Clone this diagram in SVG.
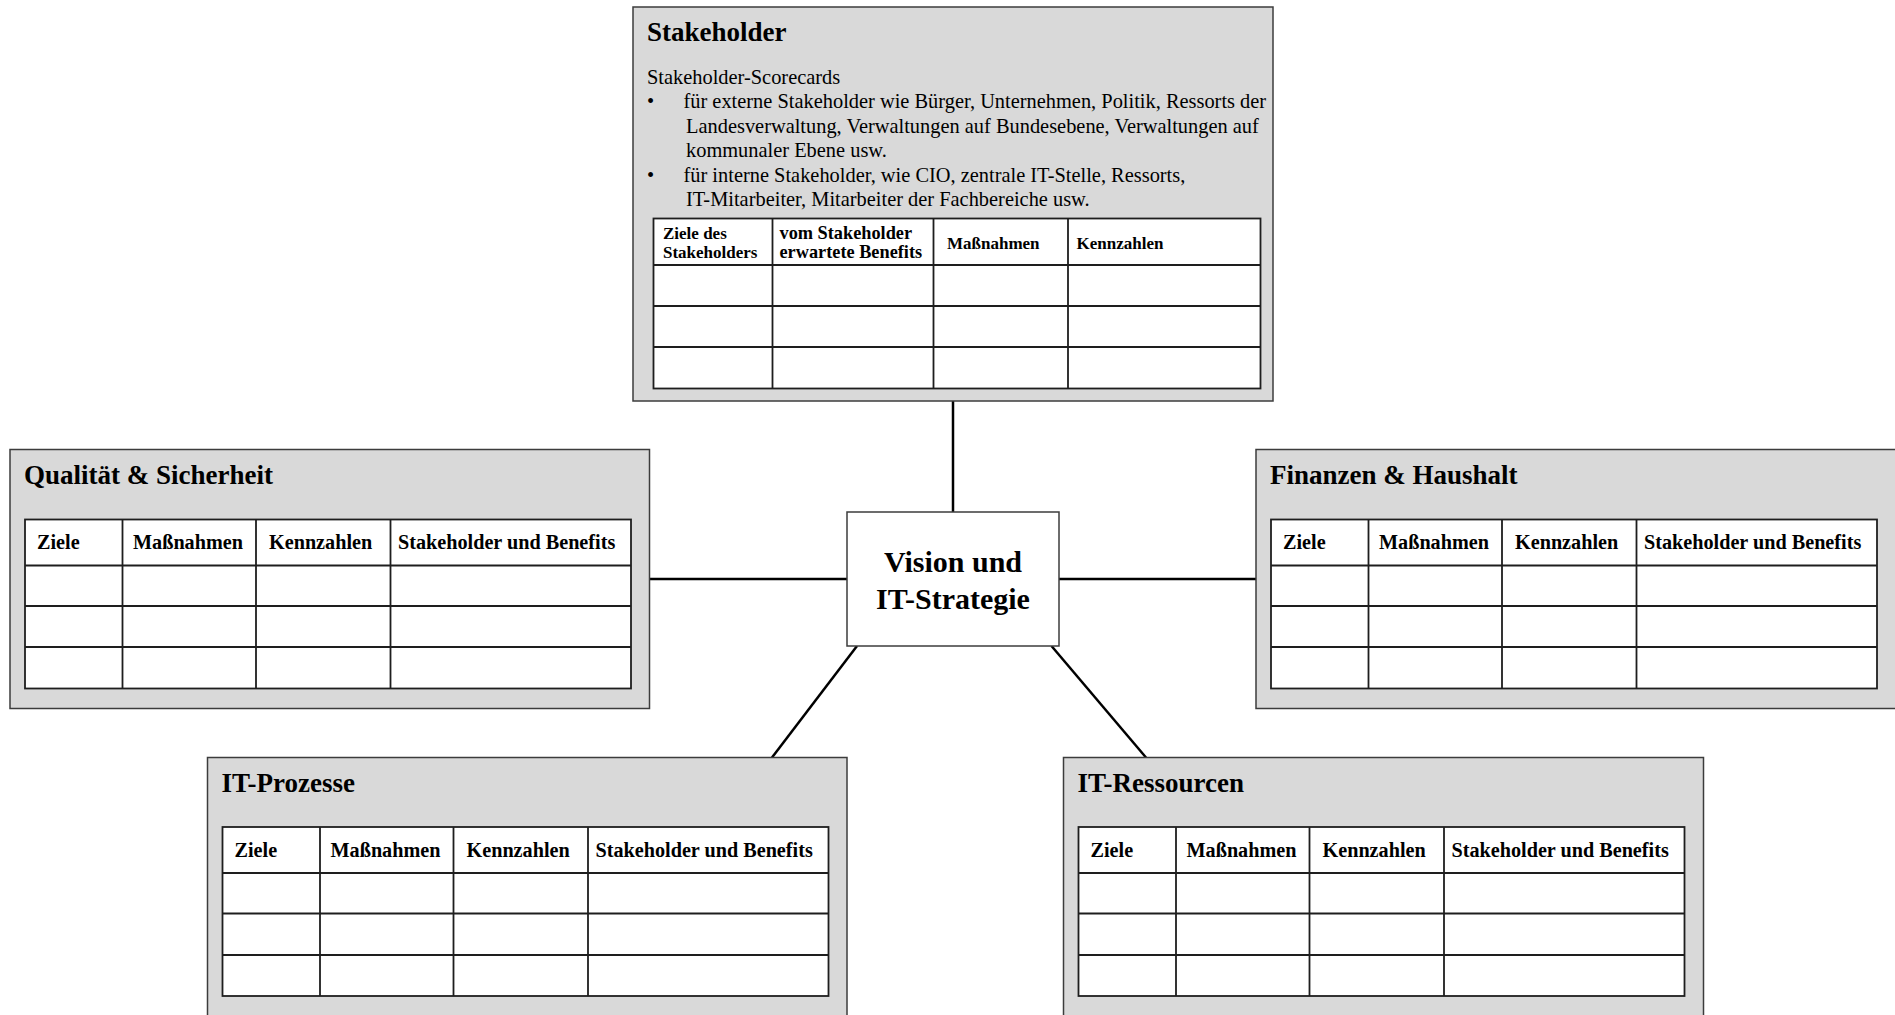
<svg xmlns="http://www.w3.org/2000/svg" width="1895" height="1015" viewBox="0 0 1895 1015">
  <style>
    .box { fill: #d9d9d9; stroke: #3c3c3c; stroke-width: 1.5; }
    .core { fill: #ffffff; stroke: #3c3c3c; stroke-width: 1.5; }
    .tbl { fill: #ffffff; stroke: #1e1e1e; stroke-width: 1.8; }
    .grid { stroke: #1e1e1e; stroke-width: 1.8; fill: none; }
    .title { font-family: "Liberation Serif", "Times New Roman", serif; font-weight: bold; font-size: 27px; fill: #000; }
    .head { font-family: "Liberation Serif", "Times New Roman", serif; font-weight: bold; font-size: 20.2px; fill: #000; }
    .shead { font-family: "Liberation Serif", "Times New Roman", serif; font-weight: bold; font-size: 17px; fill: #000; }
    .shead2 { font-family: "Liberation Serif", "Times New Roman", serif; font-weight: bold; font-size: 18.3px; fill: #000; }
    .body { font-family: "Liberation Serif", "Times New Roman", serif; font-size: 20.4px; fill: #000; }
    .center { font-family: "Liberation Serif", "Times New Roman", serif; font-weight: bold; font-size: 30px; fill: #000; text-anchor: middle; }
    .link { stroke: #000; stroke-width: 2.5; fill: none; }
  </style>

  <!-- connectors between the strategy core and the five perspectives -->
  <g id="connectors">
    <line class="link" x1="953" y1="401" x2="953" y2="512"/>
    <line class="link" x1="649.5" y1="579" x2="847" y2="579"/>
    <line class="link" x1="1059" y1="579" x2="1256" y2="579"/>
    <line class="link" x1="857" y1="646" x2="772" y2="757.5"/>
    <line class="link" x1="1051.5" y1="646" x2="1146" y2="757.5"/>
  </g>

  <!-- stakeholder perspective -->
  <g id="stakeholder">
    <rect class="box" x="633" y="7" width="640" height="394"/>
    <text class="title" x="647" y="41">Stakeholder</text>
    <text class="body" x="647" y="83.5">Stakeholder-Scorecards</text>
    <text class="body" x="647" y="108">•</text>
    <text class="body" x="683.5" y="108">für externe Stakeholder wie Bürger, Unternehmen, Politik, Ressorts der</text>
    <text class="body" x="686" y="132.5">Landesverwaltung, Verwaltungen auf Bundesebene, Verwaltungen auf</text>
    <text class="body" x="686" y="157">kommunaler Ebene usw.</text>
    <text class="body" x="647" y="181.5">•</text>
    <text class="body" x="683.5" y="181.5">für interne Stakeholder, wie CIO, zentrale IT-Stelle, Ressorts,</text>
    <text class="body" x="686" y="206">IT-Mitarbeiter, Mitarbeiter der Fachbereiche usw.</text>
    <rect class="tbl" x="653.5" y="218.5" width="607" height="170"/>
    <path class="grid" d="M653.5 265H1260.5M653.5 306H1260.5M653.5 347H1260.5M772.5 218.5V388.5M933.5 218.5V388.5M1068 218.5V388.5"/>
    <text class="shead" x="663" y="239">Ziele des</text>
    <text class="shead" x="663" y="258">Stakeholders</text>
    <text class="shead2" x="779.5" y="239">vom Stakeholder</text>
    <text class="shead2" x="779.5" y="258">erwartete Benefits</text>
    <text class="shead" x="947" y="249">Maßnahmen</text>
    <text class="shead" x="1076.5" y="249">Kennzahlen</text>
  </g>

  <!-- quality and security perspective -->
  <g id="qualitaet" transform="translate(10 449.5)">
    <rect class="box" x="0" y="0" width="639.5" height="259"/>
    <text class="title" x="14" y="34">Qualität &amp; Sicherheit</text>
    <rect class="tbl" x="15" y="70" width="606" height="169"/>
    <path class="grid" d="M15 116H621M15 156.5H621M15 197.5H621M112.5 70V239M246 70V239M380.5 70V239"/>
    <text class="head" x="27" y="99.5">Ziele</text>
    <text class="head" x="123" y="99.5">Maßnahmen</text>
    <text class="head" x="259" y="99.5">Kennzahlen</text>
    <text class="head" x="388" y="99.5">Stakeholder und Benefits</text>
  </g>

  <!-- finance and budget perspective -->
  <g id="finanzen" transform="translate(1256 449.5)">
    <rect class="box" x="0" y="0" width="660" height="259"/>
    <text class="title" x="14" y="34">Finanzen &amp; Haushalt</text>
    <rect class="tbl" x="15" y="70" width="606" height="169"/>
    <path class="grid" d="M15 116H621M15 156.5H621M15 197.5H621M112.5 70V239M246 70V239M380.5 70V239"/>
    <text class="head" x="27" y="99.5">Ziele</text>
    <text class="head" x="123" y="99.5">Maßnahmen</text>
    <text class="head" x="259" y="99.5">Kennzahlen</text>
    <text class="head" x="388" y="99.5">Stakeholder und Benefits</text>
  </g>

  <!-- core: vision and IT strategy -->
  <g id="vision">
    <rect class="core" x="847" y="512" width="212" height="134"/>
    <text class="center" x="953" y="572">Vision und</text>
    <text class="center" x="953" y="609">IT-Strategie</text>
  </g>

  <!-- IT process perspective -->
  <g id="it-prozesse" transform="translate(207.5 757.5)">
    <rect class="box" x="0" y="0" width="639.5" height="280"/>
    <text class="title" x="14" y="34">IT-Prozesse</text>
    <rect class="tbl" x="15" y="69.5" width="606" height="169"/>
    <path class="grid" d="M15 115.5H621M15 156H621M15 197.5H621M112.5 69.5V238.5M246 69.5V238.5M380.5 69.5V238.5"/>
    <text class="head" x="27" y="99">Ziele</text>
    <text class="head" x="123" y="99">Maßnahmen</text>
    <text class="head" x="259" y="99">Kennzahlen</text>
    <text class="head" x="388" y="99">Stakeholder und Benefits</text>
  </g>

  <!-- IT resources perspective -->
  <g id="it-ressourcen" transform="translate(1063.5 757.5)">
    <rect class="box" x="0" y="0" width="640" height="280"/>
    <text class="title" x="14" y="34">IT-Ressourcen</text>
    <rect class="tbl" x="15" y="69.5" width="606" height="169"/>
    <path class="grid" d="M15 115.5H621M15 156H621M15 197.5H621M112.5 69.5V238.5M246 69.5V238.5M380.5 69.5V238.5"/>
    <text class="head" x="27" y="99">Ziele</text>
    <text class="head" x="123" y="99">Maßnahmen</text>
    <text class="head" x="259" y="99">Kennzahlen</text>
    <text class="head" x="388" y="99">Stakeholder und Benefits</text>
  </g>
</svg>
